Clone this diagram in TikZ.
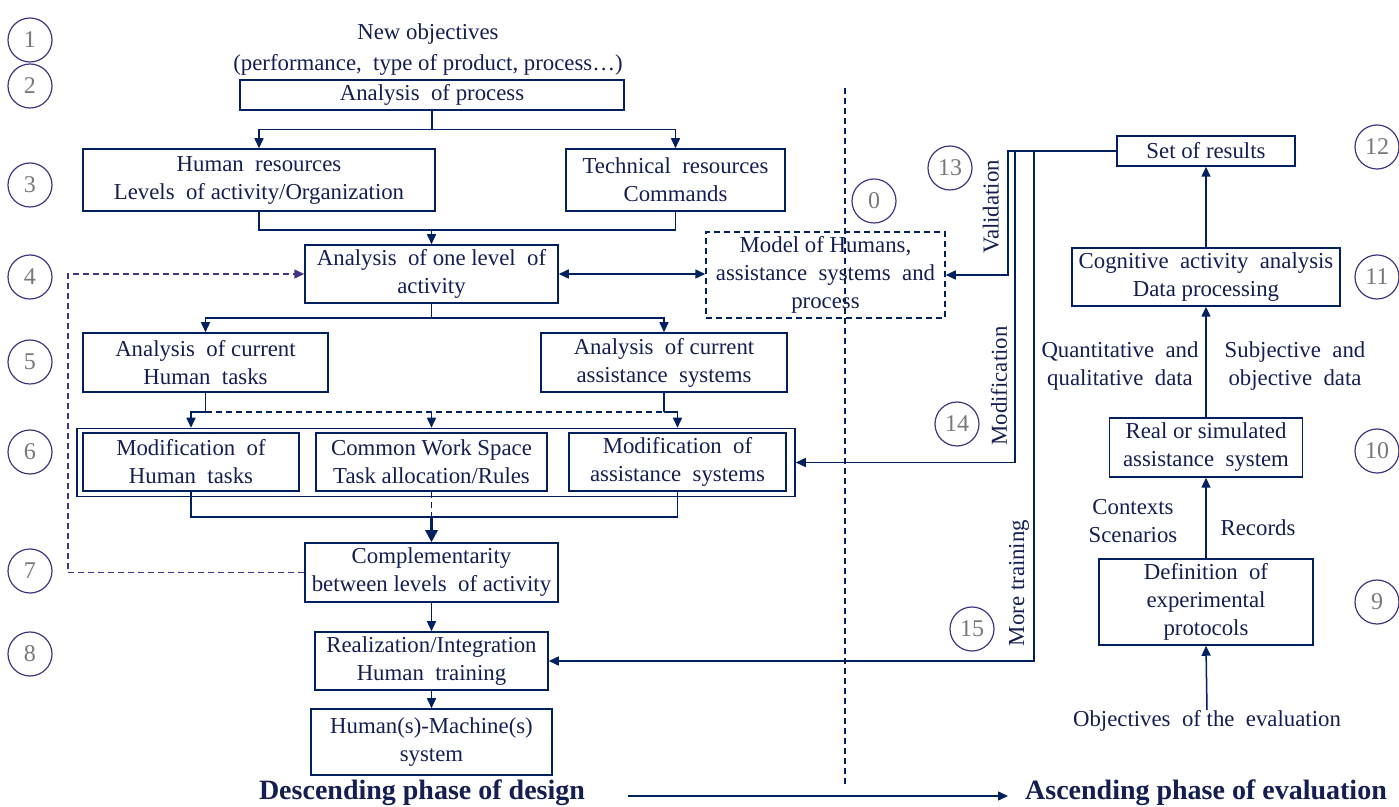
\documentclass[tikz,border=0pt]{standalone}
\usepackage{fontspec}
\setmainfont{Liberation Serif}
\usetikzlibrary{arrows.meta}
\definecolor{navy}{RGB}{0,32,96}
\definecolor{txt}{RGB}{20,30,80}
\definecolor{purp}{RGB}{70,50,130}
\definecolor{numgray}{RGB}{120,120,120}
\begin{document}
\begin{tikzpicture}[x=0.5pt,y=-0.5pt,
  box/.style={draw=navy, line width=0.75pt, align=center, inner sep=0pt, text=txt, font=\fontsize{11.4}{14}\selectfont},
  lab/.style={align=center, text=txt, font=\fontsize{11.4}{14}\selectfont, inner sep=0pt},
  num/.style={circle, draw=purp, line width=0.6pt, minimum size=22pt, inner sep=0pt, text=numgray, font=\fontsize{12}{13}\selectfont},
  ln/.style={draw=navy, line width=0.75pt},
  arr/.style={ln, -{Triangle[length=5pt,width=4.5pt]}},
  dsh/.style={dashed, dash pattern=on 3pt off 2pt},
  head/.style={text=txt, inner sep=0pt, font=\fontsize{14}{16}\selectfont\bfseries},
]
\useasboundingbox (0,0) rectangle (1399,807);

% separator
\draw[navy, line width=0.6pt, dsh] (845,88) -- (845,785);

% numbers
\node[num] (n1) at (30,40) {1};
\node[num] (n2) at (30,86) {2};
\node[num] (n3) at (30,185) {3};
\node[num] (n4) at (30,277) {4};
\node[num] (n5) at (30,362) {5};
\node[num] (n6) at (30,452) {6};
\node[num] (n7) at (30,571) {7};
\node[num] (n8) at (30,654) {8};
\node[num] (n0) at (874,201) {0};
\node[num] (n13) at (950,168) {13};
\node[num] (n14) at (957,424) {14};
\node[num] (n15) at (972,629) {15};
\node[num] (n12) at (1377,147) {12};
\node[num] (n11) at (1377,277) {11};
\node[num] (n10) at (1377,451) {10};
\node[num] (n9) at (1377,602) {9};

% top text
\node[lab, font=\fontsize{11.4}{15.5}\selectfont] (newobj) at (428,50) {New objectives\\(performance,\ \ type of product, process\ldots)};

% left boxes
\node[box, minimum width=192pt, minimum height=15pt] (proc) at (432,95) {Analysis\ \ of process};
\node[box, minimum width=176pt, minimum height=31pt] (hum) at (259,180) {Human\ \ resources\\Levels\ \ of activity/Organization};
\node[box, minimum width=109.5pt, minimum height=31pt] (tech) at (675.5,180) {Technical\ \ resources\\Commands};
\node[box, minimum width=126.5pt, minimum height=29pt] (lvl) at (431.5,274) {Analysis\ \ of one level\ \ of\\activity};
\node[box, dsh, minimum width=119.5pt, minimum height=43pt] (model) at (825.5,275) {Model of Humans,\\assistance\ \ systems\ \ and\\process};
\node[box, minimum width=122.5pt, minimum height=29.5pt] (cht) at (205.5,362.5) {Analysis\ \ of current\\Human\ \ tasks};
\node[box, minimum width=123pt, minimum height=29.5pt] (cas) at (664,362.5) {Analysis\ \ of current\\assistance\ \ systems};
\node[box, minimum width=359pt, minimum height=34pt] (outer) at (436,462.5) {};
\node[box, minimum width=108pt, minimum height=29pt] (mht) at (191,462) {Modification\ \ of\\Human\ \ tasks};
\node[box, minimum width=115.5pt, minimum height=29pt] (cws) at (431.5,462) {Common Work Space\\Task allocation/Rules};
\node[box, minimum width=108.5pt, minimum height=29pt] (mas) at (677.5,462) {Modification\ \ of\\assistance\ \ systems};
\node[box, minimum width=126.5pt, minimum height=29.5pt] (comp) at (431.5,572.5) {Complementarity\\between\ levels\ \ of activity};
\node[box, minimum width=116.5pt, minimum height=29pt] (real) at (431.5,661) {Realization/Integration\\Human\ \ training};
\node[box, minimum width=120.5pt, minimum height=33pt] (hms) at (431.5,742) {Human(s)-Machine(s)\\system};

% right boxes
\node[box, minimum width=89pt, minimum height=15pt] (set) at (1206,151) {Set of results};
\node[box, minimum width=134pt, minimum height=29pt] (cog) at (1206,277) {Cognitive\ \ activity\ \ analysis\\Data processing};
\node[box, minimum width=96.5pt, minimum height=29.5pt] (rsa) at (1206,447.5) {Real or simulated\\assistance\ \ system};
\node[box, minimum width=107pt, minimum height=43pt] (def) at (1206,602) {Definition\ \ of\\experimental\\protocols};
\node[lab] (obj) at (1207,721) {Objectives\ \ of the\ \ evaluation};
\node[lab] (quant) at (1120,366) {Quantitative\ \ and\\qualitative\ \ data};
\node[lab] (subj) at (1295,366) {Subjective\ \ and\\objective\ \ data};
\node[lab] (ctx) at (1133,521) {Contexts\\Scenarios};
\node[lab] (rec) at (1258,528) {Records};
\node[lab, rotate=90] (valid) at (991,207) {Validation};
\node[lab, rotate=90] (modif) at (999,386) {Modification};
\node[lab, rotate=90] (more) at (1019,583) {More training};

% headings
\node[head] (desc) at (422,793) {Descending phase of design};
\node[head] (asc) at (1206,793) {Ascending phase of evaluation};
\coordinate (a1) at (628,796);
\coordinate (a2) at (1008,796);
\draw[arr] (a1) -- (a2);

% connectors left
\draw[arr] (proc.south) -- ++(0,19) -| (hum.north);
\draw[arr] (proc.south) -- ++(0,19) -| (tech.north);
\coordinate (j2) at (431.5,230);
\draw[ln] (hum.south) |- (j2) -| (tech.south);
\draw[arr] (j2) -- (lvl.north);
\draw[ln, {Triangle[length=5pt,width=4.5pt]}-{Triangle[length=5pt,width=4.5pt]}] (lvl.east) -- (lvl.east -| model.west);
\coordinate (j3) at (431.5,318);
\draw[arr] (lvl.south) -- (j3) -| (cht.north);
\draw[arr] (j3) -| (cas.north);
\coordinate (j4l) at (205.5,412);
\coordinate (j4r) at (664,412);
\coordinate (j4m) at (431.5,412);
\draw[ln] (cht.south) -- (j4l);
\draw[arr] (j4l) -| (mht.north |- outer.north);
\draw[ln] (cas.south) -- (j4r);
\draw[arr] (j4r) -| (mas.north |- outer.north);
\draw[ln, dsh] (j4l) -- (j4r);
\draw[arr, dsh] (j4m) -- (cws.north |- outer.north);
\coordinate (j5) at (431.5,517);
\draw[ln] (mht.south) |- (j5) -| (mas.south);
\draw[ln, dsh] (cws.south) -- (j5);
\draw[ln, line width=1.3pt, -{Triangle[length=6pt,width=6pt]}] (j5) -- (comp.north);
\draw[arr] (comp.south) -- (real.north);
\draw[arr] (real.south) -- (hms.north);
\draw[purp, line width=0.75pt, dsh, -{Triangle[length=5pt,width=4.5pt]}] (comp.west) -- (68,572.5) -- (68,274) -- (lvl.west);

% connectors right
\draw[arr] (set.west) -- (1008,151) -- (1008,275) -- (model.east);
\draw[arr] (1015,151) |- (outer.east);
\draw[arr] (1034,151) |- (real.east);
\draw[arr] (obj.north) -- (def.south);
\draw[arr] (def.north) -- (rsa.south);
\draw[arr] (rsa.north) -- (cog.south);
\draw[arr] (cog.north) -- (set.south);
\end{tikzpicture}
\end{document}
